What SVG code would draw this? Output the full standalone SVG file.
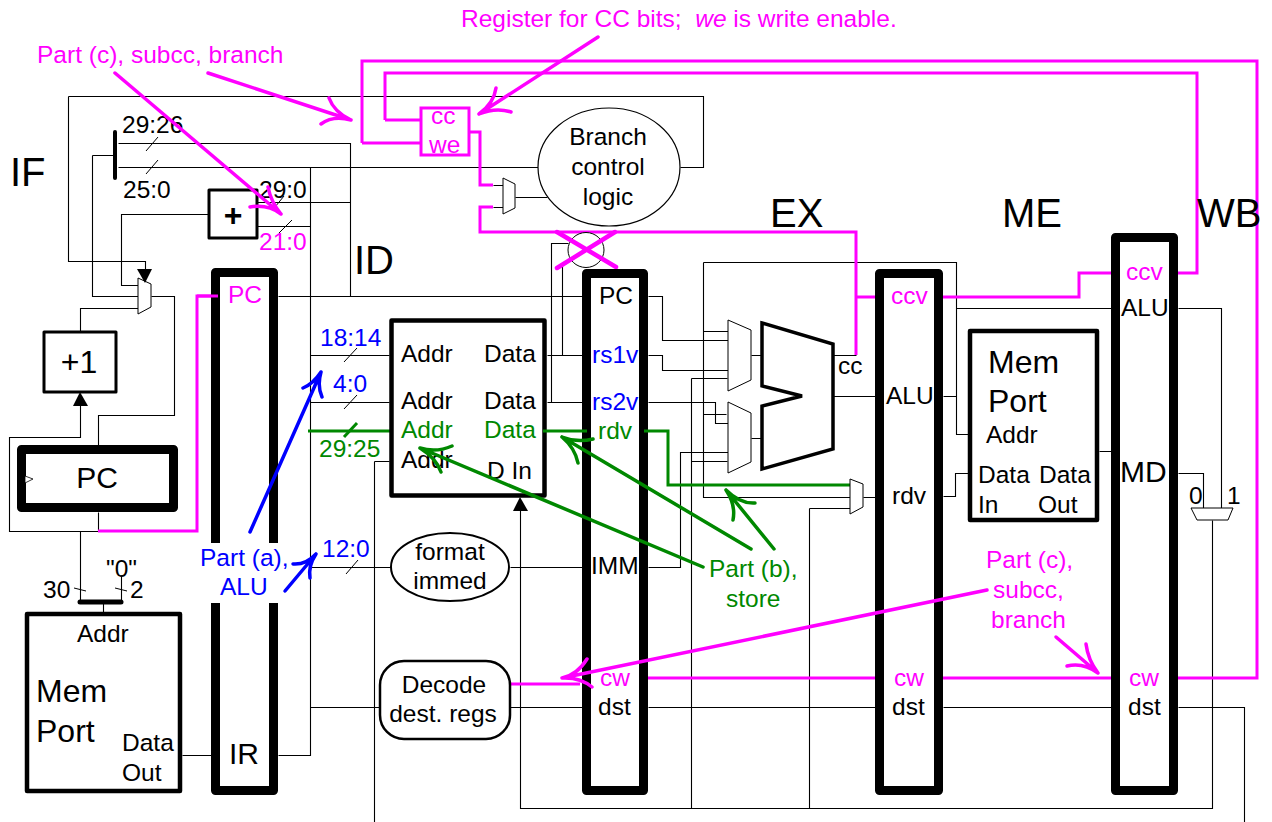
<svg xmlns="http://www.w3.org/2000/svg" width="1272" height="822" viewBox="0 0 1272 822">
<style>
text{font-family:"Liberation Sans",Arial,sans-serif;font-size:24.5px;fill:#000}
.big{font-size:40px}.mid{font-size:32px}.r30{font-size:30px}
.m{fill:#f0f}.b{fill:#00f}.g{fill:#080}.c{text-anchor:middle}
.w{fill:none;stroke:#000;stroke-width:1.1}
.tick{fill:none;stroke:#000;stroke-width:1}
.mw{fill:none;stroke:#f0f;stroke-width:3}
.ma{fill:none;stroke:#f0f;stroke-width:3.5;stroke-linecap:round}
.gw{fill:none;stroke:#080;stroke-width:3}
.ga{fill:none;stroke:#080;stroke-width:3.5;stroke-linecap:round}
.ba{fill:none;stroke:#00f;stroke-width:3.5;stroke-linecap:round}
.bar{fill:#fff;stroke:#000;stroke-width:9;stroke-linejoin:round}
.mux{fill:#fff;stroke:#000;stroke-width:1}
.box{fill:#fff;stroke:#000;stroke-width:4.5;stroke-linejoin:round}
.box3{fill:#fff;stroke:#000;stroke-width:3;stroke-linejoin:round}
</style>
<g id="connectors">
<g transform="translate(.5 .5)">
<path class="w" d="M68 96H703V167H680M68 96V261H145V270"/>
<path class="w" d="M92 155H115M92 155V296H138M118 143H350V296M118 167H538M310 167V755H278"/>
<path class="w" d="M257 202H350M257 226H310M209 214H121V285H138M151 296H174V415H98V445"/>
<path class="w" d="M80 331V308H138M80 405V437H9V531H98V512M80 531V600M121 575V600M103 603V612M182 755H211"/>
<path class="w" d="M278 296H582M310 355H389M310 402H389M310 567H391M510 567H582M374 461H389M374 461V822M310 707H379M510 707H582M648 707H875M943 707H1111M1178 707H1244V822"/>
<path class="w" d="M547 355H582M547 402H582M551 402V243H568M562 355V262"/>
<path class="w" d="M515 197H547M493 185H503M493 207H503"/>
<path class="w" d="M520 510V808H1212V520"/>
<path class="w" d="M648 296H662V340H728M648 355H662V370H728M648 402H715V423H728M648 567H680V452H728"/>
<path class="w" d="M703 262H956V434H968M703 262V497H850M703 331H728M703 414H726M691 378H727M691 378V808M691 461H727M809 508H850M809 508V808"/>
<path class="w" d="M751 355H762M751 438H762M833 396H875M833 355H856M863 497H875"/>
<path class="w" d="M943 396H956M956 308H1111M943 496H955V473H968M1099 451H1111"/>
<path class="w" d="M1178 308H1221V508M1178 473H1203V508"/>
</g>
<path class="mw" d="M385 120H421M362 143H421M362 143V61H1257V678H1172M385 120V73H1197V273H1173M938 297H1079V273H1116"/>
<path class="mw" d="M469 132H480V185H493M493 207H480V232H856V355M856 297H880M644 678H881M938 678H1116M98 531H197V296H218"/>
<path class="mw" d="M508 684H580"/>
<path class="gw" d="M308 431H393"/>
</g>
<g id="stage-labels">
<text class="big" x="10" y="186">IF</text>
<text class="big" x="354" y="274">ID</text>
<text class="big" x="770" y="227">EX</text>
<text class="big" x="1002" y="227">ME</text>
<text class="big" x="1197" y="227">WB</text>
</g>
<g id="split-bar">
<rect x="113" y="130" width="4" height="50" rx="2"/>
<text x="122" y="133">29:26</text><text x="123" y="198">25:0</text>
<path class="tick" d="M146 151L158 137M146 174L158 160M275 207L284 196M279 233L292 220"/>
</g>
<g id="adder">
<rect class="box3" x="209" y="190" width="48" height="48"/>
<text class="mid c" x="233" y="226" font-weight="bold" style="font-weight:bold">+</text>
<text x="259" y="198">29:0</text><text class="m" x="259" y="250">21:0</text>
</g>
<g id="pc-mux"><polygon class="mux" points="138,278 151,284 151,307 138,314"/>
<polygon points="137,269 152,269 145,283"/></g>
<g id="incr"><rect class="box3" x="44" y="332" width="72" height="60"/>
<text class="mid c" x="79" y="373">+1</text>
<polygon points="80,392 73,406 88,406"/></g>
<g id="pc-reg"><rect class="bar" x="21.5" y="449.5" width="152" height="58"/>
<polygon points="25,476 33,479 25,483" fill="#fff" stroke="#000" stroke-width=".8"/>
<text class="r30 c" x="97" y="488">PC</text></g>
<g id="imem-addr">
<path d="M80 602H121" stroke="#000" stroke-width="5" stroke-linecap="round" fill="none"/>
<path class="tick" d="M74 588L86 591M115 588L127 591"/>
<text x="43" y="598">30</text><text x="130" y="598">2</text><text x="106" y="577">"0"</text>
</g>
<g id="imem"><rect class="box" x="27" y="614" width="153" height="177"/>
<text x="77" y="642">Addr</text><text class="mid" x="36" y="702">Mem</text><text class="mid" x="36" y="742">Port</text>
<text x="122" y="751">Data</text><text x="122" y="781">Out</text></g>
<g id="if-id-bar"><rect class="bar" x="215.5" y="272.5" width="58" height="518"/>
<path class="mw" d="M197 296H218"/>
<text class="m" x="228" y="303">PC</text><text class="r30" x="229" y="764">IR</text></g>
<g id="bit-labels">
<text class="b" x="320" y="346">18:14</text><text class="b" x="333" y="392">4:0</text>
<text class="g" x="319" y="457">29:25</text><text class="b" x="322" y="557">12:0</text>
<path class="tick" d="M344 362L357 348M344 409L357 395M346 574L358 560"/>
<path class="gw" d="M344 437L357 423"/>
</g>
<g id="regfile"><rect class="box" x="391.5" y="320.5" width="153" height="175"/>
<text x="401" y="362">Addr</text><text x="401" y="409">Addr</text><text class="g" x="401" y="438">Addr</text><text x="401" y="468">Addr</text>
<text x="484" y="362">Data</text><text x="484" y="409">Data</text><text class="g" x="484" y="438">Data</text><text x="487" y="479">D In</text>
<polygon points="520,497 513,511 528,511"/></g>
<g id="format-immed"><ellipse cx="450" cy="567" rx="59" ry="34" fill="#fff" stroke="#000" stroke-width="2"/>
<text class="c" x="450" y="560">format</text><text class="c" x="450" y="589">immed</text></g>
<g id="decode"><rect x="380" y="661" width="130" height="78" rx="24" fill="#fff" stroke="#000" stroke-width="2.5"/>
<text class="c" x="444" y="693">Decode</text><text class="c" x="443" y="722">dest. regs</text></g>
<g id="cc-reg"><rect x="421" y="108" width="48" height="47" fill="#fff" stroke="#f0f" stroke-width="3"/>
<text class="m" x="431" y="124">cc</text><text class="m" x="429" y="153">we</text></g>
<g id="branch-mux"><polygon class="mux" points="503,178 515,184 515,208 503,214"/></g>
<g id="branch-logic"><ellipse cx="609" cy="167" rx="71" ry="59" fill="#fff" stroke="#000" stroke-width="1.2"/>
<text class="c" x="608" y="145">Branch</text><text class="c" x="608" y="175">control</text><text class="c" x="608" y="205">logic</text></g>
<g id="gate"><ellipse cx="586" cy="250" rx="18" ry="17.5" fill="#fff" stroke="#000" stroke-width="1"/>
<path d="M557 232L616 267M615 232L557 268" stroke="#f0f" stroke-width="4.5" stroke-linecap="round" fill="none"/></g>
<g id="id-ex-bar"><rect class="bar" x="586.5" y="273.5" width="57" height="517"/>
<text x="599" y="304">PC</text><text class="b" x="592" y="363">rs1v</text><text class="b" x="592" y="410">rs2v</text><text class="g" x="598" y="439">rdv</text>
<text x="591" y="574">IMM</text><text class="m" x="600" y="686">cw</text><text x="598" y="715">dst</text></g>
<path id="rd-green" class="gw" d="M543 431H587M644 431H668V485H852"/>
<g id="mux-a"><polygon class="mux" points="728,320 751,330 751,380 728,391"/></g>
<g id="mux-b"><polygon class="mux" points="728,402 751,413 751,462 728,473"/></g>
<g id="mux-c"><polygon class="mux" points="850,479 863,484 863,507 850,514"/></g>
<g id="alu"><polygon points="762,323 833,344 833,449 762,469 762,406 802,396 762,386" fill="#fff" stroke="#000" stroke-width="3.5"/>
<text x="838" y="374">cc</text></g>
<g id="ex-me-bar"><rect class="bar" x="879.5" y="273.5" width="59" height="517"/>
<text class="m" x="891" y="304">ccv</text><text x="886" y="404">ALU</text><text x="892" y="504">rdv</text>
<text class="m" x="894" y="686">cw</text><text x="892" y="715">dst</text></g>
<g id="dmem"><rect class="box" x="970" y="331" width="127" height="189"/>
<text class="mid" x="988" y="373">Mem</text><text class="mid" x="988" y="412">Port</text>
<text x="986" y="443">Addr</text><text x="978" y="483">Data</text><text x="978" y="513">In</text><text x="1039" y="483">Data</text><text x="1038" y="513">Out</text></g>
<g id="me-wb-bar"><rect class="bar" x="1115.5" y="237.5" width="58" height="553"/>
<text class="m" x="1126" y="280">ccv</text><text x="1121" y="316">ALU</text><text class="r30" x="1120" y="482">MD</text>
<text class="m" x="1129" y="686">cw</text><text x="1128" y="715">dst</text></g>
<g id="wb-mux"><polygon class="mux" points="1191,508 1233,508 1228,520 1197,520"/>
<text x="1189" y="504">0</text><text x="1227" y="504">1</text></g>
<g id="annotations">
<rect x="199" y="543" width="93" height="60" fill="#fff"/>
<text class="m" x="37" y="63">Part (c), subcc, branch</text>
<path class="ma" d="M115 73L281 214M268 187Q271 202 281 214M250 207Q268 204 281 214"/>
<path class="ma" d="M208 73L351 120M329 98Q334 112 351 120M321 124Q333 115 351 120"/>
<text class="m" x="461" y="27" xml:space="preserve">Register for CC bits;  <tspan font-style="italic">we</tspan> is write enable.</text>
<path class="ma" d="M598 37L479 114M496 88Q494 103 479 114M511 112Q496 107 479 114"/>
<text class="b" x="200" y="566">Part (a),</text><text class="b" x="220" y="595">ALU</text>
<path class="ba" d="M250 532L321 372M303 388Q313 384 321 372M322 397Q317 386 321 372"/>
<path class="ba" d="M285 591L316 554M293 564Q306 565 316 554M310 578Q308 566 316 554"/>
<text class="g" x="709" y="577">Part (b),</text><text class="g" x="726" y="607">store</text>
<path class="ga" d="M703 567L420 448M452 446Q436 453 420 448M441 472Q436 458 420 448"/>
<path class="ga" d="M751 549L562 437M593 439Q577 443 562 437M578 463Q575 448 562 437"/>
<path class="ga" d="M774 549L726 490M755 503Q740 504 726 490M733 520Q736 505 726 490"/>
<text class="m" x="986" y="568">Part (c),</text><text class="m" x="993" y="598">subcc,</text><text class="m" x="991" y="628">branch</text>
<path class="ma" d="M987 590L562 678M587 659Q577 675 562 678M592 687Q580 677 562 678"/>
<path class="ma" d="M1056 637L1098 673M1086 644Q1088 660 1098 673M1067 666Q1083 662 1098 673"/>
</g>
</svg>
